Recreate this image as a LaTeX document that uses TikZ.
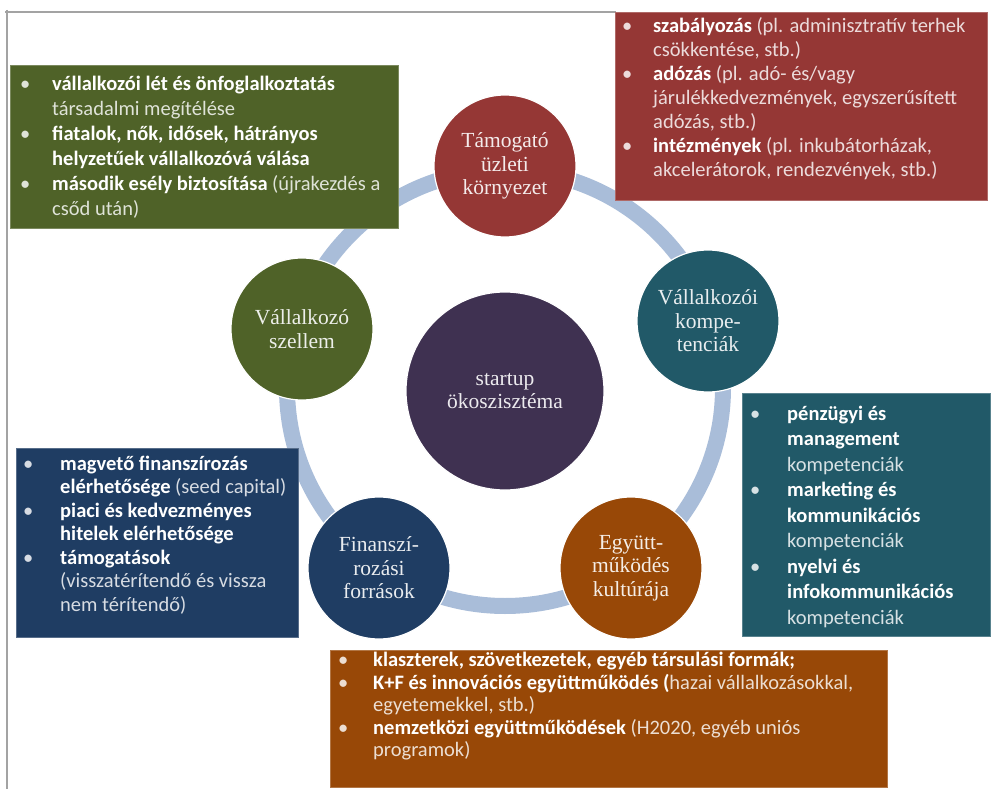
\documentclass[tikz,border=0pt]{standalone}
\usepackage{fontspec}
\setmainfont{Carlito}
\newfontfamily\circfont{Liberation Serif}

\definecolor{ringblue}{HTML}{A9BDD9}
\definecolor{framegray}{HTML}{A3A3A3}
\definecolor{cred}{HTML}{953735}
\definecolor{cgreen}{HTML}{4F6228}
\definecolor{cteal}{HTML}{215968}
\definecolor{cblue}{HTML}{1F3D63}
\definecolor{corange}{HTML}{984807}
\definecolor{cpurple}{HTML}{3F3151}

% bullet with a fixed hanging width, and the matching indent for follow-on lines
\newcommand{\bu}[1]{\makebox[#1][l]{\textbullet}}
\newcommand{\ind}[1]{\hspace*{#1}}

\begin{document}
\begin{tikzpicture}[x=1pt,y=-1pt,
  hub/.style={circle, inner sep=0pt, minimum size=198pt, fill=#1, draw=white,
    line width=1.2pt, align=center, text=white!90!#1,
    font=\circfont\fontsize{21.5}{23.5}\selectfont},
  sat/.style={hub=#1, minimum size=142pt},
  panel/.style={rectangle, inner sep=0pt, anchor=north west, fill=#1,
    draw=white!25!#1, line width=0.6pt},
  paneltext/.style={anchor=north west, inner sep=0pt, align=left,
    text=white!82!#1}]
\useasboundingbox (0,0) rectangle (991,789);
\fill[white] (0,0) rectangle (991,789);

% outer frame
\draw[framegray, line width=2.5pt] (5,12) -- (616,12);
\draw[framegray, line width=2.5pt] (7,10) -- (7,789);

% cycle ring and the circles on it
\coordinate (ringc) at (505,388);
\draw[ringblue, line width=16pt] (ringc) circle[radius=218];

\node[hub=cpurple] (core) at (505,391) {startup\\ökoszisztéma};
\node[sat=cred] (env) at (505,166) {Támogató\\üzleti\\környezet};
\node[sat=cteal] (komp) at (708,321) {Vállalkozói\\kompe-\\tenciák};
\node[sat=corange] (coop) at (631,568) {Együtt-\\működés\\kultúrája};
\node[sat=cblue] (fin) at (379,568) {Finanszí-\\rozási\\források};
\node[sat=cgreen] (spirit) at (302,329) {Vállalkozó\\szellem};

% green panel
\node[panel=cgreen, minimum width=388pt, minimum height=163pt] (gpanel) at (10,65) {};
\node[paneltext=cgreen, font=\fontsize{20.5}{25}\selectfont] (gtext)
  at ([shift={(10,7.5)}]gpanel.north west)
  {\strut\bu{32pt}{\color{white}\bfseries vállalkozói lét és önfoglalkoztatás}\\
   \ind{32pt}társadalmi megítélése\\
   \bu{32pt}{\color{white}\bfseries fiatalok, nők, idősek, hátrányos}\\
   \ind{32pt}{\color{white}\bfseries helyzetűek vállalkozóvá válása}\\
   \bu{32pt}{\color{white}\bfseries második esély biztosítása} (újrakezdés a\\
   \ind{32pt}csőd után)};

% red panel
\node[panel=cred, minimum width=372pt, minimum height=188pt] (rpanel) at (615,12) {};
\node[paneltext=cred, font=\fontsize{20.5}{24}\selectfont] (rtext)
  at ([shift={(7,3.2)}]rpanel.north west)
  {\strut\bu{31pt}{\color{white}\bfseries szabályozás} (pl. adminisztratív terhek\\
   \ind{31pt}csökkentése, stb.)\\
   \bu{31pt}{\color{white}\bfseries adózás} (pl. adó- és/vagy\\
   \ind{31pt}járulékkedvezmények, egyszerűsített\\
   \ind{31pt}adózás, stb.)\\
   \bu{31pt}{\color{white}\bfseries intézmények} (pl. inkubátorházak,\\
   \ind{31pt}akcelerátorok, rendezvények, stb.)};

% teal panel
\node[panel=cteal, minimum width=248pt, minimum height=243pt] (tpanel) at (742,393) {};
\node[paneltext=cteal, font=\fontsize{20.5}{25.5}\selectfont] (ttext)
  at ([shift={(8,9)}]tpanel.north west)
  {\strut\bu{37pt}{\color{white}\bfseries pénzügyi és}\\
   \ind{37pt}{\color{white}\bfseries management}\\
   \ind{37pt}kompetenciák\\
   \bu{37pt}{\color{white}\bfseries marketing és}\\
   \ind{37pt}{\color{white}\bfseries kommunikációs}\\
   \ind{37pt}kompetenciák\\
   \bu{37pt}{\color{white}\bfseries nyelvi és}\\
   \ind{37pt}{\color{white}\bfseries infokommunikációs}\\
   \ind{37pt}kompetenciák};

% blue panel
\node[panel=cblue, minimum width=282pt, minimum height=189pt] (bpanel) at (16,448) {};
\node[paneltext=cblue, font=\fontsize{20.5}{23.5}\selectfont] (btext)
  at ([shift={(7,5.5)}]bpanel.north west)
  {\strut\bu{37pt}{\color{white}\bfseries magvető finanszírozás}\\
   \ind{37pt}{\color{white}\bfseries elérhetősége} (seed capital)\\
   \bu{37pt}{\color{white}\bfseries piaci és kedvezményes}\\
   \ind{37pt}{\color{white}\bfseries hitelek elérhetősége}\\
   \bu{37pt}{\color{white}\bfseries támogatások}\\
   \ind{37pt}(visszatérítendő és vissza\\
   \ind{37pt}nem térítendő)};

% orange panel
\node[panel=corange, minimum width=557pt, minimum height=137pt] (opanel) at (330,650) {};
\node[paneltext=corange, font=\fontsize{20.5}{22.5}\selectfont] (otext)
  at ([shift={(8,1)}]opanel.north west)
  {\strut\bu{35pt}{\color{white}\bfseries klaszterek, szövetkezetek, egyéb társulási formák;}\\
   \bu{35pt}{\color{white}\bfseries K+F és innovációs együttműködés (}hazai vállalkozásokkal,\\
   \ind{35pt}egyetemekkel, stb.)\\
   \bu{35pt}{\color{white}\bfseries nemzetközi együttműködések} (H2020, egyéb uniós\\
   \ind{35pt}programok)};
\end{tikzpicture}
\end{document}
